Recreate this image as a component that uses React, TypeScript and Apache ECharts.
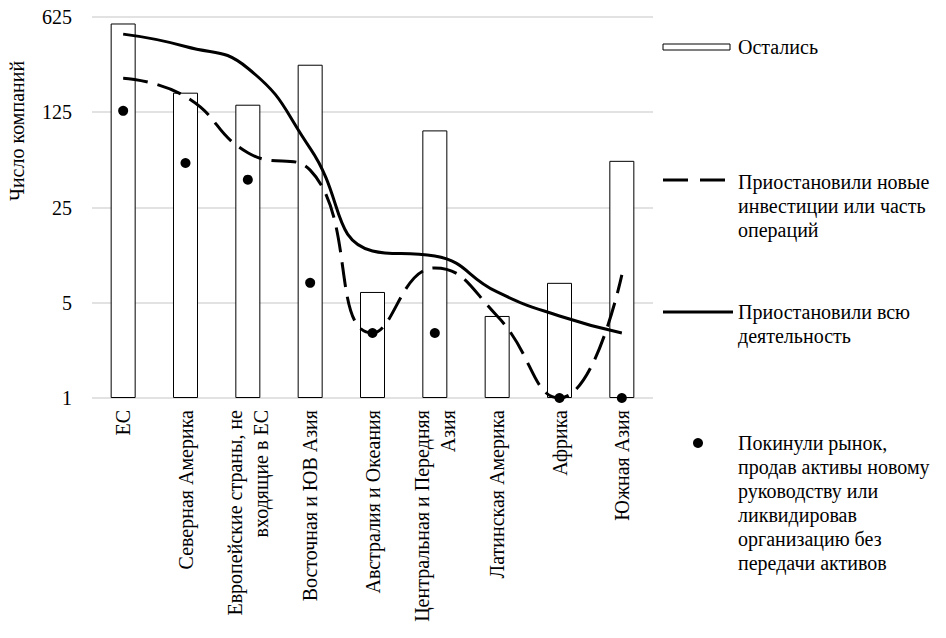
import React, { useEffect, useRef } from "react";
import * as echarts from "echarts";

const categories = [
  "ЕС",
  "Северная Америка",
  "Европейские страны, не\nвходящие в ЕС",
  "Восточная и ЮВ Азия",
  "Австралия и Океания",
  "Центральная и Передняя\nАзия",
  "Латинская Америка",
  "Африка",
  "Южная Азия",
];
const remained = [560, 174, 142, 279, 6, 92, 4, 7, 55];
const suspendedPart = [222, 163, 63, 47, 3, 9, 4, 1, 8];
const suspendedAll = [468, 380, 263, 68, 12, 11, 6, 4, 3];
const exited: (number | null)[] = [128, 53, 40, 7, 3, 3, null, 1, 1];
const yTicks = [1, 5, 25, 125, 625];

const legendNames = [
  "Остались",
  "Приостановили новые\nинвестиции или часть\nопераций",
  "Приостановили всю\nдеятельность",
  "Покинули рынок,\nпродав активы новому\nруководству или\nликвидировав\nорганизацию без\nпередачи активов",
];

const FONT = "Liberation Serif, DejaVu Serif, serif";
const FS = 20;

export default function App() {
  const ref = useRef<HTMLDivElement>(null);
  useEffect(() => {
    document.body.style.margin = "0";
    const chart = echarts.init(ref.current!, null, { renderer: "svg" });
    const textStyle = (text: string, x: number, y: number) => ({
      type: "text",
      x,
      y,
      style: {
        text,
        fontSize: FS,
        fontFamily: FONT,
        fill: "#000",
        lineHeight: 24,
        align: "left",
        verticalAlign: "top",
      },
    });
    chart.setOption({
      animation: false,
      backgroundColor: "#fff",
      textStyle: { fontFamily: FONT },
      grid: { left: 92, right: 293, top: 17, bottom: 240, containLabel: false },
      xAxis: {
        type: "category",
        data: categories,
        axisLine: { show: false },
        axisTick: { show: false },
        axisLabel: {
          rotate: 90,
          interval: 0,
          margin: 12,
          fontSize: FS,
          fontFamily: FONT,
          color: "#000",
          lineHeight: 26,
        },
      },
      yAxis: {
        type: "log",
        logBase: 5,
        min: yTicks[0],
        max: yTicks[yTicks.length - 1],
        axisLine: { show: false },
        axisTick: { show: false },
        axisLabel: {
          margin: 20,
          fontSize: FS,
          fontFamily: FONT,
          color: "#000",
        },
        splitLine: { lineStyle: { color: "#d9d9d9", width: 1.5 } },
      },
      series: [
        {
          name: legendNames[0],
          type: "bar",
          data: remained,
          barWidth: 25,
          itemStyle: { color: "#fff", borderColor: "#000", borderWidth: 1 },
          z: 1,
        },
        {
          name: legendNames[1],
          type: "line",
          data: suspendedPart,
          smooth: 0.5,
          symbol: "none",
          lineStyle: { color: "#000", width: 3, type: [25, 10] },
          z: 3,
        },
        {
          name: legendNames[2],
          type: "line",
          data: suspendedAll,
          smooth: 0.5,
          symbol: "none",
          lineStyle: { color: "#000", width: 3 },
          z: 3,
        },
        {
          name: legendNames[3],
          type: "scatter",
          data: exited,
          symbol: "circle",
          symbolSize: 10,
          itemStyle: { color: "#000", opacity: 1 },
          z: 4,
        },
      ],
      graphic: [
        {
          type: "text",
          x: 17,
          y: 131,
          rotation: Math.PI / 2,
          style: {
            text: "Число компаний",
            fontSize: FS,
            fontFamily: FONT,
            fill: "#000",
            align: "center",
            verticalAlign: "middle",
          },
        },
        {
          type: "rect",
          shape: { x: 663, y: 44, width: 67, height: 6 },
          style: { fill: "#fff", stroke: "#000", lineWidth: 1 },
        },
        textStyle(legendNames[0], 738, 35),
        {
          type: "line",
          shape: { x1: 663, y1: 180, x2: 725, y2: 180 },
          style: { stroke: "#000", lineWidth: 3, lineDash: [25, 12] },
        },
        textStyle(legendNames[1], 738, 170),
        {
          type: "line",
          shape: { x1: 663, y1: 312, x2: 733, y2: 312 },
          style: { stroke: "#000", lineWidth: 3 },
        },
        textStyle(legendNames[2], 738, 300),
        {
          type: "circle",
          shape: { cx: 698, cy: 443, r: 5 },
          style: { fill: "#000" },
        },
        textStyle(legendNames[3], 738, 431),
      ],
    });
    return () => chart.dispose();
  }, []);
  return <div ref={ref} style={{ width: 946, height: 638 }} />;
}
